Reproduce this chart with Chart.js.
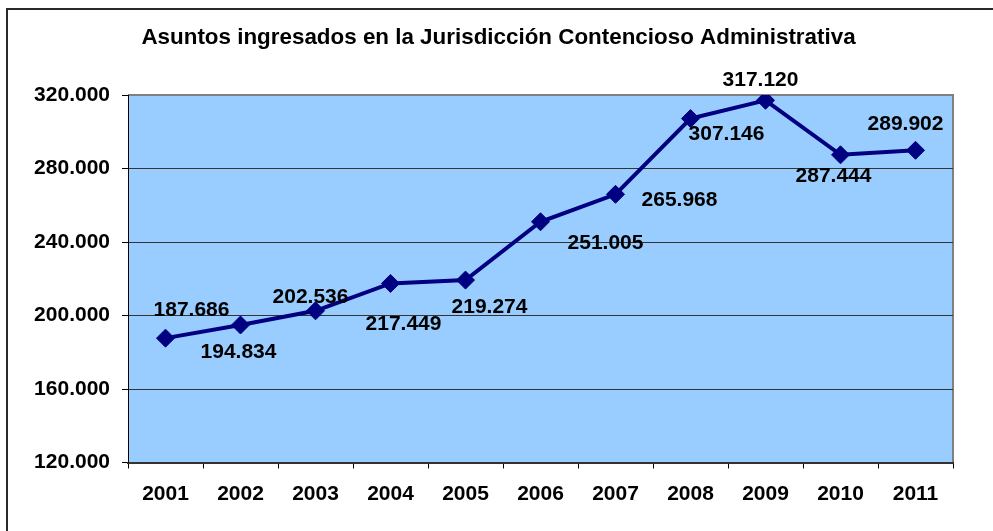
<!DOCTYPE html>
<html>
<head>
<meta charset="utf-8">
<script src="https://cdn.jsdelivr.net/npm/chart.js@4/dist/chart.umd.min.js"></script>
<style>
  html, body { margin: 0; padding: 0; background: #fff; overflow: hidden; }
  #wrap { position: relative; width: 993px; height: 531px; }
  #frame { position: absolute; left: 6px; top: 8px; width: 1000px; height: 600px;
           border-top: 2px solid #2a2a2a; border-left: 2px solid #2a2a2a; box-sizing: border-box; pointer-events: none; }
  canvas { display: block; }
</style>
</head>
<body>
<div id="wrap">
  <canvas id="c" width="993" height="531"></canvas>
  <div id="frame"></div>
</div>
<script>
const chartTitle = 'Asuntos ingresados en la Jurisdicción Contencioso Administrativa';
const years = ['2001', '2002', '2003', '2004', '2005', '2006', '2007', '2008', '2009', '2010', '2011'];
const asuntos = [187686, 194834, 202536, 217449, 219274, 251005, 265968, 307146, 317120, 287444, 289902];
const yMin = 120000;
const yMax = 320000;
const yStep = 40000;
// label placement offsets (pixels) relative to each point
const labelDx = [26, -2, -5, 13, 24, 65, 64, 36, -5, -7, -10];
const labelDy = [-28, 27, -14, 41, 27, 21, 6, 16, -20, 21, -26];

const FONT = '"Liberation Sans", Arial, sans-serif';
function fmt(n) { return String(n).replace(/\B(?=(\d{3})+(?!\d))/g, '.'); }

const bgPlugin = {
  id: 'plotBg',
  beforeDraw(chart) {
    const a = chart.chartArea, ctx = chart.ctx;
    ctx.save();
    ctx.fillStyle = '#99CCFF';
    ctx.fillRect(a.left, a.top, a.right - a.left, a.bottom - a.top);
    ctx.strokeStyle = '#808080';
    ctx.lineWidth = 2;
    ctx.beginPath();
    ctx.moveTo(a.left, a.top);
    ctx.lineTo(a.right, a.top);
    ctx.lineTo(a.right, a.bottom);
    ctx.stroke();
    ctx.restore();
  }
};

const titlePlugin = {
  id: 'customTitle',
  afterDraw(chart) {
    const ctx = chart.ctx;
    ctx.save();
    ctx.font = 'bold 22.4px ' + FONT;
    ctx.fillStyle = '#000';
    ctx.textAlign = 'center';
    ctx.textBaseline = 'middle';
    ctx.fillText(chartTitle, 498.5, 38);
    ctx.restore();
  }
};

const labelPlugin = {
  id: 'pointLabels',
  afterDatasetsDraw(chart) {
    const ctx = chart.ctx;
    const meta = chart.getDatasetMeta(0);
    ctx.save();
    ctx.font = 'bold 21px ' + FONT;
    ctx.fillStyle = '#000';
    ctx.textAlign = 'center';
    ctx.textBaseline = 'middle';
    meta.data.forEach((pt, i) => {
      ctx.fillText(fmt(asuntos[i]), pt.x + labelDx[i], pt.y + labelDy[i]);
    });
    ctx.restore();
  }
};

new Chart(document.getElementById('c'), {
  type: 'line',
  data: {
    labels: years,
    datasets: [{
      data: asuntos,
      borderColor: '#000080',
      borderWidth: 4,
      backgroundColor: '#000080',
      pointStyle: 'rectRot',
      pointRadius: 9,
      pointBackgroundColor: '#000080',
      pointBorderColor: '#000080',
      pointBorderWidth: 1,
      tension: 0,
      fill: false
    }]
  },
  options: {
    responsive: false,
    devicePixelRatio: 1,
    animation: false,
    layout: { padding: { top: 95, left: 0, right: 40, bottom: 0 } },
    plugins: { legend: { display: false }, tooltip: { enabled: false }, title: { display: false } },
    scales: {
      x: {
        offset: true,
        afterFit(scale) { scale.height = 68.5; },
        grid: { display: true, offset: true, drawOnChartArea: false, drawTicks: true, tickLength: 6, tickColor: '#000' },
        border: { display: true, color: '#333', width: 2 },
        ticks: { color: '#000', font: { family: FONT, size: 21, weight: 'bold' }, padding: 13, maxRotation: 0, autoSkip: false }
      },
      y: {
        min: yMin,
        max: yMax,
        afterFit(scale) { scale.width = 128; },
        grid: {
          color: (c) => (c.tick && c.tick.value === yMax) ? 'rgba(0,0,0,0)' : '#333',
          lineWidth: 1,
          tickLength: 6,
          tickColor: '#000'
        },
        border: { display: true, color: '#000', width: 1 },
        ticks: { stepSize: yStep, color: '#000', padding: 12, font: { family: FONT, size: 21, weight: 'bold' }, callback: (v) => fmt(v) }
      }
    }
  },
  plugins: [bgPlugin, labelPlugin, titlePlugin]
});
</script>
</body>
</html>
